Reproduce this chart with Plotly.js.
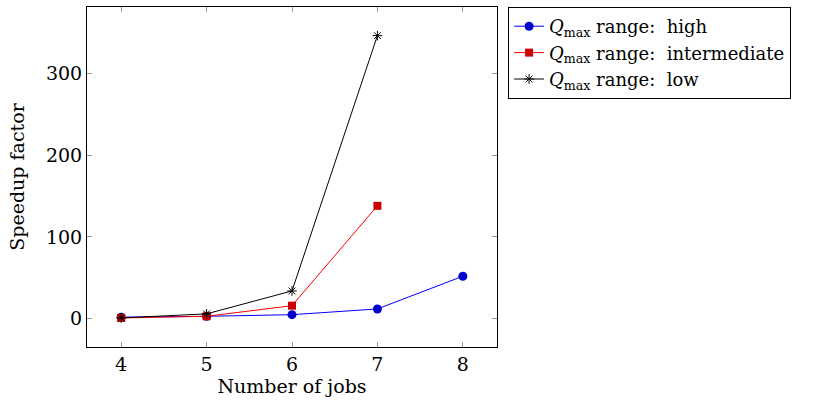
<!DOCTYPE html>
<html>
<head>
<meta charset="utf-8">
<script src="https://cdn.plot.ly/plotly-3.0.1.min.js"></script>
<style>html,body{margin:0;padding:0;background:#fff;}#chart{width:819px;height:404px;}</style>
</head>
<body>
<div id="chart"></div>
<script>
const jobsHigh = [4, 5, 6, 7, 8];
const speedupHigh = [2, 3, 5, 12, 52];
const jobsInter = [4, 5, 6, 7];
const speedupInter = [1, 3, 16, 138];
const jobsLow = [4, 5, 6, 7];
const speedupLow = [1, 6, 34, 346];
const seriesNames = [
  '<i>Q</i><sub>max</sub> range:  high',
  '<i>Q</i><sub>max</sub> range:  intermediate',
  '<i>Q</i><sub>max</sub> range:  low'
];
const xTicks = [4, 5, 6, 7, 8];
const yTicks = [0, 100, 200, 300];

const FONT = "'DejaVu Serif', serif";

const traces = [
  {x: jobsHigh, y: speedupHigh, name: seriesNames[0], mode: 'lines+markers',
   line: {color: '#0000ff', width: 1},
   marker: {symbol: 'circle', size: 9, color: '#0000cc', line: {width: 0}}},
  {x: jobsInter, y: speedupInter, name: seriesNames[1], mode: 'lines+markers',
   line: {color: '#ff0000', width: 1},
   marker: {symbol: 'square', size: 8, color: '#cc0000', line: {width: 0}}},
  {x: jobsLow, y: speedupLow, name: seriesNames[2], mode: 'lines+markers',
   line: {color: '#000000', width: 1},
   marker: {symbol: 'asterisk-open', size: 8, color: '#000000', line: {color: '#000000', width: 1}}}
];

const layout = {
  width: 819, height: 404,
  margin: {l: 87, r: 322, t: 7, b: 57},
  paper_bgcolor: '#fff', plot_bgcolor: '#fff',
  font: {family: FONT, size: 19, color: '#000'},
  showlegend: true,
  legend: {x: 1.027, y: 1, xanchor: 'left', yanchor: 'top',
           bordercolor: '#000', borderwidth: 1, bgcolor: '#fff',
           font: {family: FONT, size: 18, color: '#000'},
           tracegroupgap: 0, itemwidth: 30},
  xaxis: {range: [3.6, 8.4], tickvals: xTicks, ticktext: xTicks.map(String),
          showgrid: false, zeroline: false, showline: true, linecolor: '#000', linewidth: 1,
          mirror: 'ticks', ticks: 'inside', ticklen: 5, tickcolor: '#999', tickwidth: 1,
          title: {text: 'Number of jobs', font: {family: FONT, size: 19}, standoff: 1},
          tickfont: {family: FONT, size: 19}},
  yaxis: {range: [-34.5, 381], tickvals: yTicks, ticktext: yTicks.map(String),
          showgrid: false, zeroline: false, showline: true, linecolor: '#000', linewidth: 1,
          mirror: 'ticks', ticks: 'inside', ticklen: 5, tickcolor: '#999', tickwidth: 1,
          title: {text: 'Speedup factor', font: {family: FONT, size: 19}, standoff: 16},
          tickfont: {family: FONT, size: 19}}
};

Plotly.newPlot('chart', traces, layout, {displayModeBar: false, staticPlot: true});
</script>
</body>
</html>
